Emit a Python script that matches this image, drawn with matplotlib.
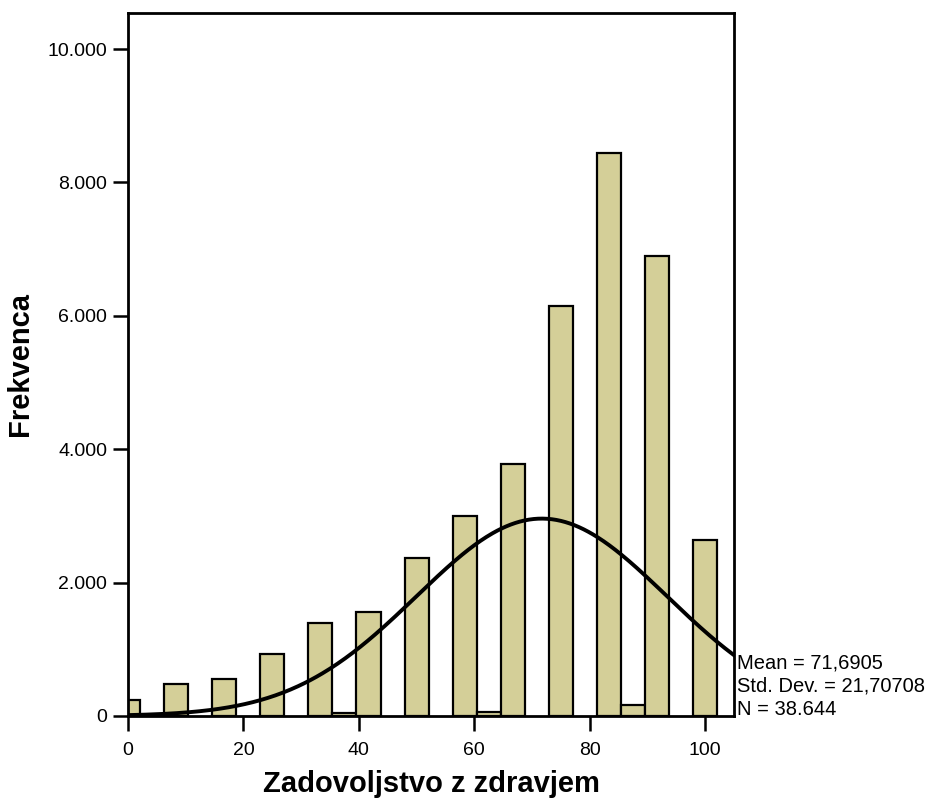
import numpy as np
import matplotlib.pyplot as plt
from matplotlib.ticker import FuncFormatter

plt.rcParams['font.family'] = ['Liberation Sans', 'DejaVu Sans']

# bin centres (step 100/24) and counts
bin_width = 100 / 24
bin_centres = [0, 8.333, 16.667, 25, 33.333, 37.5, 41.667, 50, 58.333,
               62.5, 66.667, 75, 83.333, 87.5, 91.667, 100]
counts = [235, 486, 555, 930, 1395, 45, 1560, 2366, 2996,
          60, 3776, 6146, 8436, 171, 6896, 2636]

mean = 71.6905
std = 21.70708
n = 38644
stats_text = ['Mean = 71,6905', 'Std. Dev. = 21,70708', 'N = 38.644']
y_ticks = [0, 2000, 4000, 6000, 8000, 10000]
x_ticks = [0, 20, 40, 60, 80, 100]

fig = plt.figure(figsize=(9.39, 7.98), dpi=100)
ax = fig.add_axes([0.1363, 0.1028, 0.6454, 0.8809])

ax.bar(bin_centres, counts, width=bin_width, color='#d4cf98',
       edgecolor='black', linewidth=1.6, zorder=2)

# normal curve from the stated mean / sd / N
xs = np.linspace(0, 105, 400)
curve = n * bin_width / (std * np.sqrt(2 * np.pi)) * np.exp(-0.5 * ((xs - mean) / std) ** 2)
ax.plot(xs, curve, color='black', linewidth=2.8, zorder=3)

ax.set_xlim(0, 105)
ax.set_ylim(0, 10540)
ax.set_xticks(x_ticks)
ax.set_yticks(y_ticks)
ax.yaxis.set_major_formatter(FuncFormatter(lambda v, p: f'{int(v):,}'.replace(',', '.')))

for s in ax.spines.values():
    s.set_linewidth(2)
ax.tick_params(axis='both', direction='out', length=11, width=1.8)
ax.tick_params(axis='y', labelsize=14, pad=4)
ax.tick_params(axis='x', labelsize=14, pad=8)

ax.set_xlabel('Zadovoljstvo z zdravjem', fontsize=21, fontweight='bold', labelpad=8)
ax.set_ylabel('Frekvenca', fontsize=21, fontweight='bold', labelpad=10)

for i, t in enumerate(stats_text):
    ax.text(1.005, 0.075 - i * 0.033, t, transform=ax.transAxes, fontsize=14.5,
            ha='left', va='center', clip_on=False)

fig.savefig('out.png', dpi=100)
